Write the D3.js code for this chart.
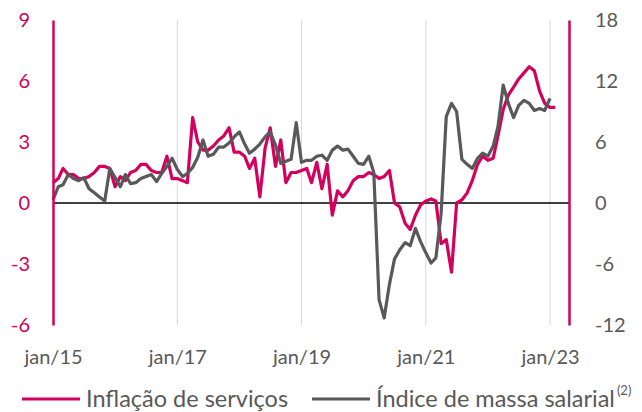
<!DOCTYPE html>
<html>
<head>
<meta charset="utf-8">
<script src="https://cdn.jsdelivr.net/npm/d3@7"></script>
<style>
  html, body { margin: 0; padding: 0; background: #fff; }
  svg { display: block; font-family: Lato, "Open Sans", sans-serif; }
</style>
</head>
<body>
<svg id="chart" width="642" height="412"></svg>
<script>
// ---- Data (monthly, starting Jan 2015) ----
const startYear = 2015;
const servicesInflation = [
  1.0, 1.2, 1.7, 1.4, 1.4, 1.2, 1.2, 1.3, 1.5, 1.8, 1.8, 1.7,
  0.8, 1.3, 1.1, 1.5, 1.6, 1.9, 1.9, 1.6, 1.5, 1.5, 2.3, 1.2,
  1.2, 1.1, 1.0, 4.2, 3.0, 2.6, 2.6, 2.8, 3.1, 3.3, 3.7, 2.5,
  2.5, 2.3, 1.7, 2.2, 0.3, 2.7, 3.7, 1.8, 3.1, 1.0, 1.5, 1.5,
  1.6, 1.7, 1.0, 2.0, 0.7, 1.9, -0.6, 0.6, 0.3, 0.6, 1.1, 1.3,
  1.3, 1.5, 1.4, 1.2, 1.3, 1.6, 0.0, -0.2, -1.0, -1.3, -0.6, -0.1,
  0.1, 0.2, 0.1, -2.0, -1.8, -3.4, 0.0, 0.15, 0.5, 1.1, 1.9, 2.3,
  2.1, 2.2, 3.3, 4.6, 5.3, 5.7, 6.1, 6.4, 6.7, 6.5, 5.5, 4.9,
  4.7, 4.7
];
const wageBillIndex = [
  0.3, 1.6, 1.8, 2.8, 2.4, 2.2, 2.5, 1.4, 1.0, 0.6, 0.2, 3.4,
  2.5, 1.6, 2.8, 1.9, 2.0, 2.4, 2.6, 2.8, 2.1, 2.9, 3.6, 4.4,
  3.3, 2.6, 2.9, 3.5, 4.5, 6.2, 4.6, 4.8, 5.5, 5.5, 5.9, 6.5,
  7.0, 5.8, 4.9, 5.3, 5.8, 6.5, 7.0, 5.7, 3.9, 4.1, 4.3, 7.9,
  4.0, 4.2, 4.2, 4.6, 4.7, 4.2, 5.2, 5.6, 5.2, 5.3, 4.6, 3.9,
  3.8, 4.6, 3.0, -9.5, -11.3, -8.0, -5.5, -4.6, -3.9, -4.2, -2.5, -3.8,
  -4.9, -5.9, -5.4, -1.0, 8.5, 9.8, 9.0, 4.3, 3.8, 3.4, 4.4, 4.9,
  4.6, 5.6, 7.5, 11.6, 9.8, 8.4, 9.6, 10.1, 9.8, 9.1, 9.3, 9.1,
  10.3
];
const leftTicks = [-6, -3, 0, 3, 6, 9];
const rightTicks = [-12, -6, 0, 6, 12, 18];
const xTickYears = [2015, 2017, 2019, 2021, 2023];
const seriesNames = ["Inflação de serviços", "Índice de massa salarial"];
const footnote = "(2)";

// ---- Styles ----
const RED = "#D3005E";
const GREY = "#595959";
const svg = d3.select("#chart");

const m = { left: 53, right: 569, top: 20, bottom: 325 };
const monthDate = i => new Date(startYear, i, 1);
const plainFmt = d => String(d);

const x = d3.scaleTime()
  .domain([new Date(2015, 0, 1), new Date(2023, 0, 1)])
  .range([53, 550]);
const yL = d3.scaleLinear().domain([-6, 9]).range([m.bottom, m.top]);
const yR = d3.scaleLinear().domain([-12, 18]).range([m.bottom, m.top]);

// vertical gridlines
svg.append("g")
  .selectAll("line")
  .data(xTickYears.slice(1))
  .join("line")
  .attr("x1", d => x(new Date(d, 0, 1)))
  .attr("x2", d => x(new Date(d, 0, 1)))
  .attr("y1", m.top).attr("y2", m.bottom)
  .attr("stroke", "#d9d9d9").attr("stroke-width", 1);

// zero line
svg.append("line")
  .attr("x1", m.left).attr("x2", m.right)
  .attr("y1", yL(0)).attr("y2", yL(0))
  .attr("stroke", "#000").attr("stroke-width", 1.5);

// series lines
const lineL = d3.line().x((d, i) => x(monthDate(i))).y(d => yL(d));
const lineR = d3.line().x((d, i) => x(monthDate(i))).y(d => yR(d));

svg.append("path").datum(servicesInflation)
  .attr("d", lineL).attr("fill", "none")
  .attr("stroke", RED).attr("stroke-width", 3.2).attr("stroke-linejoin", "round");
svg.append("path").datum(wageBillIndex)
  .attr("d", lineR).attr("fill", "none")
  .attr("stroke", GREY).attr("stroke-width", 3.2).attr("stroke-linejoin", "round");

// left axis
const axL = svg.append("g").attr("transform", `translate(${m.left},0)`)
  .call(d3.axisLeft(yL).tickValues(leftTicks).tickFormat(plainFmt).tickSize(0).tickPadding(23));
axL.select(".domain").attr("stroke", RED).attr("stroke-width", 2.5);
axL.selectAll("text").attr("fill", RED).attr("font-size", 20)
  .attr("font-family", "Lato, sans-serif");

// right axis
const axR = svg.append("g").attr("transform", `translate(${m.right},0)`)
  .call(d3.axisRight(yR).tickValues(rightTicks).tickFormat(plainFmt).tickSize(0).tickPadding(26));
axR.select(".domain").attr("stroke", RED).attr("stroke-width", 2.5);
axR.selectAll("text").attr("fill", GREY).attr("font-size", 20)
  .attr("font-family", "Lato, sans-serif");

// x axis labels
const axX = svg.append("g").attr("transform", `translate(0,${m.bottom})`)
  .call(d3.axisBottom(x)
    .tickValues(xTickYears.map(yv => new Date(yv, 0, 1)))
    .tickFormat(d3.timeFormat("jan/%y"))
    .tickSize(0).tickPadding(25));
axX.select(".domain").remove();
axX.selectAll("text").attr("fill", GREY).attr("font-size", 20)
  .attr("font-family", "Lato, sans-serif");

// legend
const lg = svg.append("g").attr("font-family", "Lato, sans-serif");
const legendItems = [
  { name: seriesNames[0], color: RED, x0: 22 },
  { name: seriesNames[1], color: GREY, x0: 312 }
];
legendItems.forEach((it, k) => {
  lg.append("line").attr("x1", it.x0).attr("x2", it.x0 + 58)
    .attr("y1", 399).attr("y2", 399)
    .attr("stroke", it.color).attr("stroke-width", 3.2);
  const t = lg.append("text").attr("x", it.x0 + 64).attr("y", 407)
    .attr("fill", GREY).attr("font-size", 23.5).text(it.name);
  if (k === 1) {
    t.append("tspan").attr("font-size", 13).attr("dy", -12).attr("dx", 2).text(footnote);
  }
});
</script>
</body>
</html>
